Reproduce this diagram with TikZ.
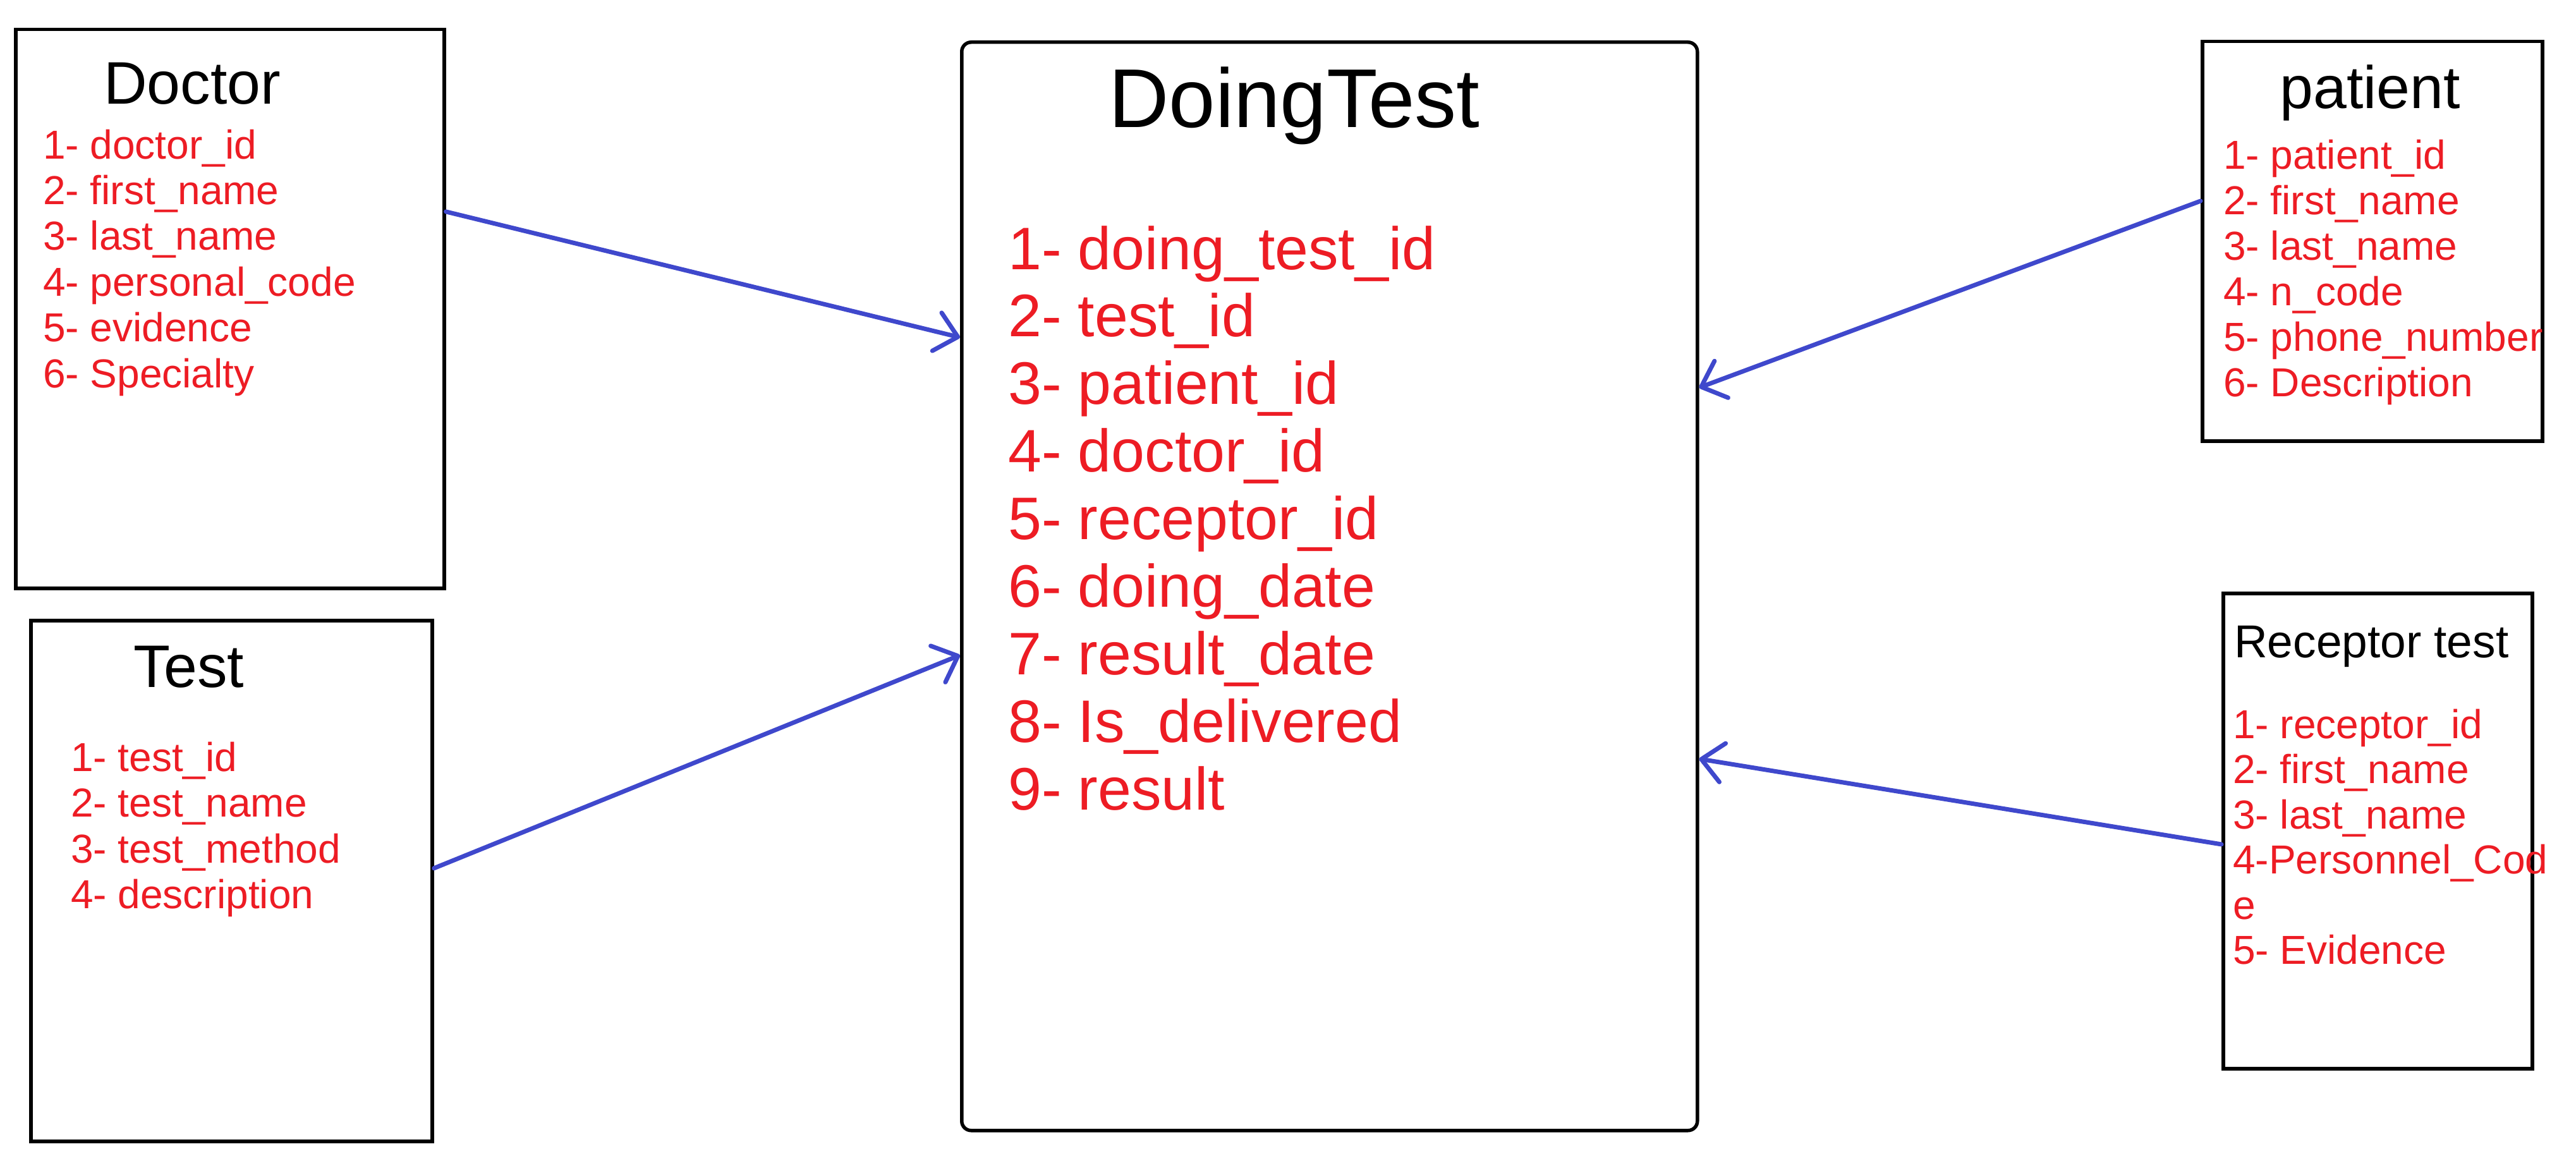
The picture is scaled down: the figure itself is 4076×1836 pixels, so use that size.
\documentclass[tikz,border=0pt]{standalone}
\usepackage{fontspec}
\setmainfont{Liberation Sans}
\usetikzlibrary{arrows.meta,calc}
\definecolor{attrred}{RGB}{237,28,36}
\definecolor{linkblue}{RGB}{63,72,204}
\begin{document}
\begin{tikzpicture}[x=1pt,y=-1pt,
  box/.style={draw=black, line width=5.5pt, inner sep=0pt, anchor=north west},
  titletext/.style={inner sep=0pt, anchor=base, text=black, font=\fontsize{95}{107}\selectfont},
  attr/.style={inner sep=0pt, anchor=base west, text=attrred, font=\fontsize{64}{72}\selectfont},
  bigattr/.style={inner sep=0pt, anchor=base west, text=attrred, font=\fontsize{95}{107}\selectfont},
  conn/.style={draw=linkblue, line width=7pt, line cap=round, line join=round,
    -{Straight Barb[length=34pt,width=62pt,round]}}
]
\fill[white] (0,0) rectangle (4076,1836);
\useasboundingbox (0,0) rectangle (4076,1836);

% boxes
\node[box, minimum width=678pt, minimum height=884pt] (doctor) at (22,44) {};
\node[box, minimum width=635pt, minimum height=824pt] (test) at (46,979) {};
\node[box, minimum width=538pt, minimum height=632pt] (patient) at (3482,63) {};
\node[box, minimum width=489pt, minimum height=752pt] (receptor) at (3515,936) {};
\node[box, rounded corners=15pt, minimum width=1164pt, minimum height=1722pt] (doing) at (1519,64) {};

% titles
\node[titletext] (doctorT) at (304,164) {Doctor};
\node[titletext] (testT) at (299,1087) {Test};
\node[titletext] (patientT) at (3750,171) {patient};
\node[titletext, anchor=base west, font=\fontsize{73}{82}\selectfont] (receptorT) at (3535,1040) {Receptor test};
\node[titletext, font=\fontsize{132}{150}\selectfont] (doingT) at (2048,201) {DoingTest};

% attributes
\foreach \t [count=\i from 0] in {1- doctor\_id, 2- first\_name, 3- last\_name, 4- personal\_code, 5- evidence, 6- Specialty}
  \node[attr] (doc-\i) at (68,{251+72.4*\i}) {\t};
\foreach \t [count=\i from 0] in {1- test\_id, 2- test\_name, 3- test\_method, 4- description}
  \node[attr] (tst-\i) at (112,{1220+72.6*\i}) {\t};
\foreach \t [count=\i from 0] in {1- patient\_id, 2- first\_name, 3- last\_name, 4- n\_code, 5- phone\_number, 6- Description}
  \node[attr] (pat-\i) at (3518,{267+72*\i}) {\t};
\foreach \t [count=\i from 0] in {1- receptor\_id, 2- first\_name, 3- last\_name, 4-Personnel\_Cod, e, 5- Evidence}
  \node[attr] (rec-\i) at (3533,{1168+71.5*\i}) {\t};
\foreach \t [count=\i from 0] in {1- doing\_test\_id, 2- test\_id, 3- patient\_id, 4- doctor\_id, 5- receptor\_id, 6- doing\_date, 7- result\_date, 8- Is\_delivered, 9- result}
  \node[bigattr] (dt-\i) at (1595,{426+106.9*\i}) {\t};

% connectors
\draw[conn] ($(doctor.north east)!0.327!(doctor.south east)$) -- ($(doing.north west)!0.272!(doing.south west)$);
\draw[conn] ($(test.north east)!0.476!(test.south east)$) -- ($(doing.north west)!0.563!(doing.south west)$);
\draw[conn] ($(patient.north west)!0.400!(patient.south west)$) -- ($(doing.north east)!0.318!(doing.south east)$);
\draw[conn] ($(receptor.north west)!0.528!(receptor.south west)$) -- ($(doing.north east)!0.658!(doing.south east)$);
\end{tikzpicture}
\end{document}
